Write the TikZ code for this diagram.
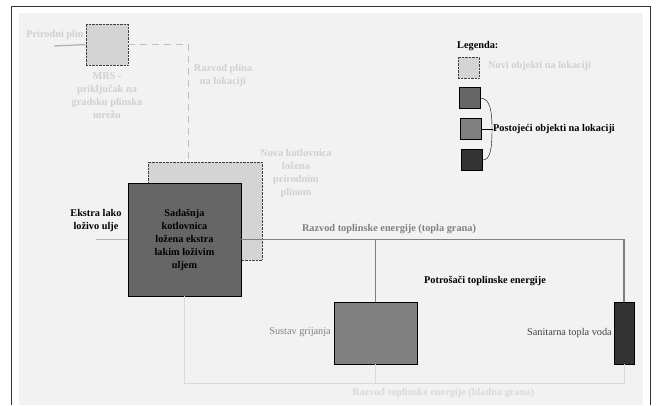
\documentclass[tikz,border=0pt]{standalone}
\usepackage{fontspec}
\setmainfont{Liberation Serif}
\usetikzlibrary{positioning,calc}
\definecolor{bgpanel}{HTML}{F2F2F2}
\definecolor{newobj}{HTML}{D4D4D4}
\definecolor{oldA}{HTML}{666666}
\definecolor{oldB}{HTML}{808080}
\definecolor{oldC}{HTML}{333333}
\definecolor{faint}{HTML}{D0D0D0}

\begin{document}
\begin{tikzpicture}[x=1pt, y=-1pt,
  newbox/.style={rectangle, draw=black!75, densely dotted, fill=newobj, inner sep=0pt, minimum width=#1},
  oldbox/.style={rectangle, draw=black, thin, fill=#1, inner sep=0pt},
  lbl/.style={font=\fontsize{10.3}{13}\selectfont\bfseries, align=center, inner sep=0pt},
  pale/.style={lbl, text=faint},
  hot/.style={draw=oldB, line width=1.3pt},
  cold/.style={draw=black!15, line width=1pt},
  gasline/.style={draw=black!30, line width=1.3pt}
]
  % Frame
  \useasboundingbox (0,0) rectangle (656,405);
  \fill[bgpanel] (19,13) rectangle (643,405);
  \draw[black!80, line width=1pt] (11.5,405) |- (650,6) -- (650,405);

  % Gas connection
  \node[newbox=42pt, minimum height=41pt] (mrs) at (107,44.5) {};
  \coordinate (gasin) at (54,46);
  \node[pale] (plin) at (55,35) {Prirodni plin};
  \node[pale, below=7pt of mrs] (mrslbl) {MRS -\\priključak na\\gradsku plinska\\mrežu};
  \node[pale] (razplin) at (223,76) {Razvod plina\\na lokaciji};

  % Boiler rooms
  \node[newbox=114pt, minimum height=98pt] (nova) at (205,211) {};
  \node[pale] (novalbl) at (296,174) {Nova kotlovnica\\ložena\\prirodnim\\plinom};
  \node[oldbox=oldA, minimum width=113pt, minimum height=113pt, lbl] (sad) at (184.5,239.5)
    {Sadašnja\\kotlovnica\\ložena ekstra\\lakim loživim\\uljem};
  \coordinate (oilin) at (96,239.5);
  \node[lbl] (oil) at (96,221) {Ekstra lako\\loživo ulje};

  % Consumers
  \node[oldbox=oldB, minimum width=83pt, minimum height=62pt] (sustav) at (375.5,333) {};
  \node[oldbox=oldC, minimum width=20pt, minimum height=62pt] (stv) at (624,333) {};
  \node[lbl, font=\fontsize{10.3}{13}\selectfont, text=black!50, anchor=east] (sustavlbl) at (331,332) {Sustav grijanja};
  \node[lbl, font=\fontsize{10.3}{13}\selectfont, text=black!75, anchor=east] (stvlbl) at (612,333) {Sanitarna topla voda};
  \node[lbl] (potr) at (485,281) {Potrošači toplinske energije};
  \coordinate (cret) at ([yshift=-19pt]stv.south);

  % Pipes
  \draw[gasline] (gasin) -- (mrs.west);
  \draw[black!25, line width=1pt, dash pattern=on 7pt off 5pt] (mrs.east) -| ([xshift=41pt]nova.north west);
  \draw[gasline] (oilin) -- (sad.west);
  \draw[hot] (sad.east) -| (stv.north);
  \draw[hot] (sustav.north) -- (sustav.north |- sad.east);
  \draw[cold] (sad.south) |- (cret) -- (stv.south);
  \draw[cold] (sustav.south) -- (sustav.south |- cret);
  \node[lbl, text=oldB] (toplalbl) at (389,229) {Razvod toplinske energije (topla grana)};
  \node[pale, text=black!15] (hladnalbl) at (443,393) {Razvod toplinske energije (hladna grana)};

  % Legend
  \node[lbl, anchor=west] (leg) at (457,46) {Legenda:};
  \node[newbox=21pt, minimum height=21pt] (lnew) at (468.5,67.5) {};
  \node[oldbox=oldA, minimum size=21pt] (lold1) at (470,98) {};
  \node[oldbox=oldB, minimum size=21pt] (lold2) at (471,129) {};
  \node[oldbox=oldC, minimum size=21pt] (lold3) at (472,160) {};
  \node[pale, anchor=west] (lnewlbl) at (488,66) {Novi objekti na lokaciji};
  \node[lbl, anchor=west] (loldlbl) at (493,129) {Postojeći objekti na lokaciji};
  \draw[thin] (lold1.east) .. controls (490,99) and (492,110) .. (492,129)
    .. controls (492,150) and (490,160) .. (lold3.east);
  \draw[thin] (lold2.east) -- (loldlbl.west);
\end{tikzpicture}
\end{document}
